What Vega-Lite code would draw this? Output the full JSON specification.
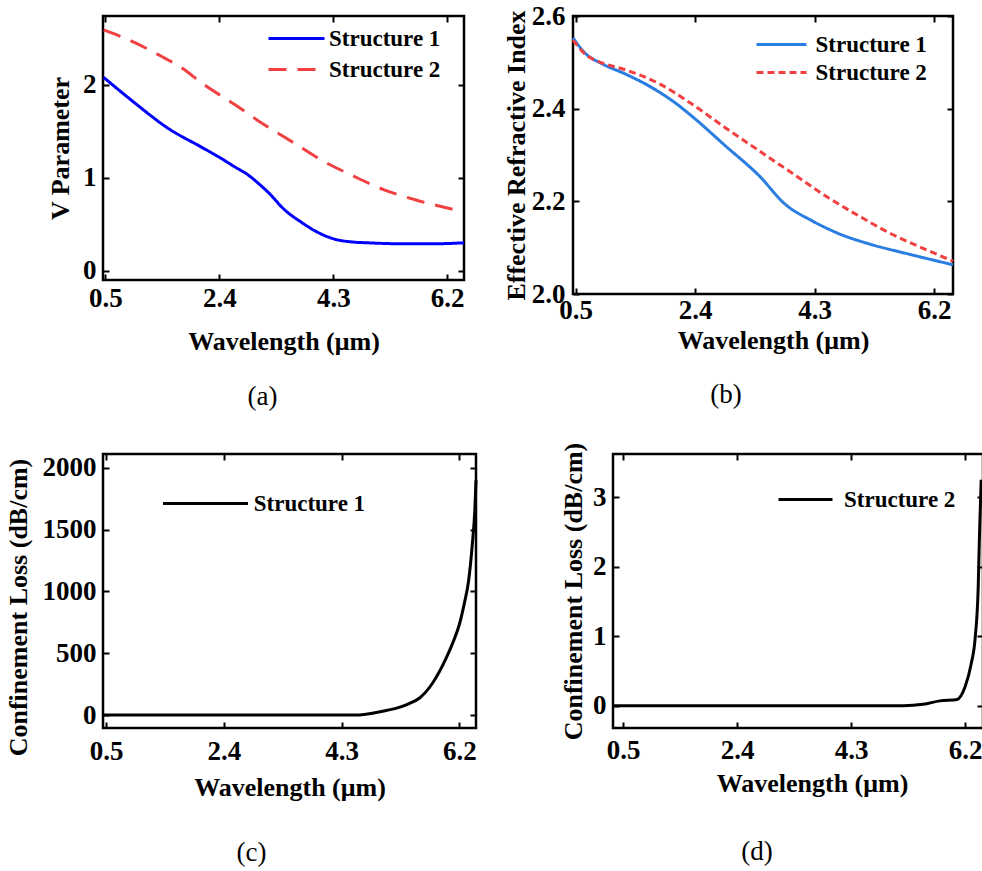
{
  "$schema": "https://vega.github.io/schema/vega-lite/v6.json",
  "padding": {"left": 3, "top": 0, "right": 0, "bottom": 0},
  "background": "white",
  "config": {
    "font": "'Liberation Serif', 'Times New Roman', serif",
    "view": {"stroke": "black", "strokeWidth": 2.5},
    "axis": {
      "labelFont": "'Liberation Serif', 'Times New Roman', serif", "labelFontWeight": "bold", "labelFontSize": 27, "labelColor": "black",
      "titleFont": "'Liberation Serif', 'Times New Roman', serif", "titleFontWeight": "bold", "titleFontSize": 26, "titleColor": "black",
      "domain": false, "grid": false, "tickColor": "black", "tickWidth": 2, "tickSize": -6,
      "labelFlush": false, "labelOverlap": false
    },
    "legend": {
      "labelFont": "'Liberation Serif', 'Times New Roman', serif", "labelFontWeight": "bold", "labelFontSize": 23, "labelColor": "black",
      "symbolStrokeWidth": 3, "symbolType": "M-4,0H4", "padding": 0, "labelLimit": 400
    },
    "title": {"font": "'Liberation Serif', 'Times New Roman', serif", "fontWeight": "normal", "fontSize": 27, "color": "black", "anchor": "middle"}
  },
  "datasets": {
    "a": [
      {"wl": 0.47, "val": 2.08, "series": "Structure 1"},
      {"wl": 0.98, "val": 1.81, "series": "Structure 1"},
      {"wl": 1.55, "val": 1.53, "series": "Structure 1"},
      {"wl": 2.1, "val": 1.33, "series": "Structure 1"},
      {"wl": 2.4, "val": 1.22, "series": "Structure 1"},
      {"wl": 2.65, "val": 1.12, "series": "Structure 1"},
      {"wl": 2.88, "val": 1.03, "series": "Structure 1"},
      {"wl": 3.05, "val": 0.94, "series": "Structure 1"},
      {"wl": 3.22, "val": 0.84, "series": "Structure 1"},
      {"wl": 3.48, "val": 0.66, "series": "Structure 1"},
      {"wl": 3.77, "val": 0.52, "series": "Structure 1"},
      {"wl": 4.05, "val": 0.41, "series": "Structure 1"},
      {"wl": 4.32, "val": 0.34, "series": "Structure 1"},
      {"wl": 4.6, "val": 0.31, "series": "Structure 1"},
      {"wl": 4.88, "val": 0.3, "series": "Structure 1"},
      {"wl": 5.43, "val": 0.29, "series": "Structure 1"},
      {"wl": 6.0, "val": 0.29, "series": "Structure 1"},
      {"wl": 6.48, "val": 0.3, "series": "Structure 1"},
      {"wl": 0.47, "val": 2.59, "series": "Structure 2"},
      {"wl": 0.72, "val": 2.53, "series": "Structure 2"},
      {"wl": 1.22, "val": 2.38, "series": "Structure 2"},
      {"wl": 1.48, "val": 2.29, "series": "Structure 2"},
      {"wl": 1.73, "val": 2.2, "series": "Structure 2"},
      {"wl": 2.15, "val": 2.0, "series": "Structure 2"},
      {"wl": 2.65, "val": 1.79, "series": "Structure 2"},
      {"wl": 3.15, "val": 1.57, "series": "Structure 2"},
      {"wl": 3.63, "val": 1.38, "series": "Structure 2"},
      {"wl": 4.13, "val": 1.18, "series": "Structure 2"},
      {"wl": 4.63, "val": 1.02, "series": "Structure 2"},
      {"wl": 5.15, "val": 0.87, "series": "Structure 2"},
      {"wl": 5.68, "val": 0.76, "series": "Structure 2"},
      {"wl": 6.3, "val": 0.66, "series": "Structure 2"}
    ],
    "b": [
      {"wl": 0.46, "val": 2.553, "series": "Structure 1"},
      {"wl": 0.65, "val": 2.52, "series": "Structure 1"},
      {"wl": 0.92, "val": 2.497, "series": "Structure 1"},
      {"wl": 1.29, "val": 2.475, "series": "Structure 1"},
      {"wl": 1.72, "val": 2.445, "series": "Structure 1"},
      {"wl": 2.08, "val": 2.413, "series": "Structure 1"},
      {"wl": 2.4, "val": 2.378, "series": "Structure 1"},
      {"wl": 2.88, "val": 2.32, "series": "Structure 1"},
      {"wl": 3.42, "val": 2.255, "series": "Structure 1"},
      {"wl": 3.83, "val": 2.194, "series": "Structure 1"},
      {"wl": 4.26, "val": 2.158, "series": "Structure 1"},
      {"wl": 4.69, "val": 2.13, "series": "Structure 1"},
      {"wl": 5.17, "val": 2.108, "series": "Structure 1"},
      {"wl": 5.8, "val": 2.086, "series": "Structure 1"},
      {"wl": 6.5, "val": 2.063, "series": "Structure 1"},
      {"wl": 0.46, "val": 2.548, "series": "Structure 2"},
      {"wl": 0.65, "val": 2.518, "series": "Structure 2"},
      {"wl": 0.92, "val": 2.499, "series": "Structure 2"},
      {"wl": 1.29, "val": 2.484, "series": "Structure 2"},
      {"wl": 1.83, "val": 2.454, "series": "Structure 2"},
      {"wl": 2.35, "val": 2.41, "series": "Structure 2"},
      {"wl": 2.88, "val": 2.359, "series": "Structure 2"},
      {"wl": 3.42, "val": 2.309, "series": "Structure 2"},
      {"wl": 3.94, "val": 2.261, "series": "Structure 2"},
      {"wl": 4.47, "val": 2.212, "series": "Structure 2"},
      {"wl": 5.01, "val": 2.168, "series": "Structure 2"},
      {"wl": 5.53, "val": 2.129, "series": "Structure 2"},
      {"wl": 6.05, "val": 2.097, "series": "Structure 2"},
      {"wl": 6.5, "val": 2.071, "series": "Structure 2"}
    ],
    "c": [
      {"wl": 0.45, "val": 0, "series": "Structure 1"},
      {"wl": 1.5, "val": 0, "series": "Structure 1"},
      {"wl": 2.5, "val": 0, "series": "Structure 1"},
      {"wl": 3.5, "val": 0, "series": "Structure 1"},
      {"wl": 4.3, "val": 0, "series": "Structure 1"},
      {"wl": 4.59, "val": 1, "series": "Structure 1"},
      {"wl": 4.8, "val": 14, "series": "Structure 1"},
      {"wl": 4.96, "val": 30, "series": "Structure 1"},
      {"wl": 5.23, "val": 62, "series": "Structure 1"},
      {"wl": 5.4, "val": 95, "series": "Structure 1"},
      {"wl": 5.56, "val": 138, "series": "Structure 1"},
      {"wl": 5.77, "val": 259, "series": "Structure 1"},
      {"wl": 5.99, "val": 462, "series": "Structure 1"},
      {"wl": 6.1, "val": 590, "series": "Structure 1"},
      {"wl": 6.2, "val": 731, "series": "Structure 1"},
      {"wl": 6.28, "val": 900, "series": "Structure 1"},
      {"wl": 6.35, "val": 1085, "series": "Structure 1"},
      {"wl": 6.41, "val": 1380, "series": "Structure 1"},
      {"wl": 6.45, "val": 1650, "series": "Structure 1"},
      {"wl": 6.47, "val": 1900, "series": "Structure 1"}
    ],
    "d": [
      {"wl": 0.33, "val": 0, "series": "Structure 2"},
      {"wl": 1.5, "val": 0, "series": "Structure 2"},
      {"wl": 2.5, "val": 0, "series": "Structure 2"},
      {"wl": 3.5, "val": 0, "series": "Structure 2"},
      {"wl": 4.5, "val": 0, "series": "Structure 2"},
      {"wl": 5.17, "val": 0, "series": "Structure 2"},
      {"wl": 5.5, "val": 0.02, "series": "Structure 2"},
      {"wl": 5.78, "val": 0.07, "series": "Structure 2"},
      {"wl": 6.07, "val": 0.09, "series": "Structure 2"},
      {"wl": 6.13, "val": 0.14, "series": "Structure 2"},
      {"wl": 6.2, "val": 0.27, "series": "Structure 2"},
      {"wl": 6.3, "val": 0.59, "series": "Structure 2"},
      {"wl": 6.37, "val": 0.98, "series": "Structure 2"},
      {"wl": 6.42, "val": 1.7, "series": "Structure 2"},
      {"wl": 6.44, "val": 2.42, "series": "Structure 2"},
      {"wl": 6.47, "val": 3.25, "series": "Structure 2"}
    ]
  },
  "concat": [
    {
      "hconcat": [
        {
          "width": 361, "height": 264,
          "data": {"name": "a"},
          "title": {"text": "(a)", "orient": "bottom", "offset": 30, "dx": -21},
          "layer": [
            {
              "mark": {"type": "line", "strokeWidth": 3, "interpolate": "monotone"},
              "encoding": {
                "x": {"field": "wl", "type": "quantitative", "scale": {"domain": [0.46, 6.48], "nice": false, "zero": false},
                      "axis": {"title": "Wavelength (μm)", "values": [0.5, 2.4, 4.3, 6.2], "format": ".1f", "labelPadding": 11, "titlePadding": 17}},
                "y": {"field": "val", "type": "quantitative", "scale": {"domain": [-0.1, 2.74], "nice": false, "zero": false},
                      "axis": {"title": "V Parameter", "values": [0, 1, 2], "format": "d", "labelPadding": 13, "titlePadding": 9}},
                "color": {"field": "series", "type": "nominal",
                          "scale": {"domain": ["Structure 1", "Structure 2"], "range": ["#0000ff", "#f04040"]},
                          "legend": {"orient": "none", "legendX": 182, "legendY": 11, "symbolSize": 196, "rowPadding": 7, "labelOffset": 21, "title": null}},
                "strokeDash": {"field": "series", "type": "nominal",
                          "scale": {"domain": ["Structure 1", "Structure 2"], "range": [[1, 0], [18, 11]]},
                          "legend": {"orient": "none", "legendX": 182, "legendY": 11, "symbolSize": 196, "rowPadding": 7, "labelOffset": 21, "title": null}}
              }
            },
            {
              "mark": {"type": "line", "opacity": 0},
              "encoding": {
                "x": {"field": "wl", "type": "quantitative", "axis": {"orient": "top", "labels": false, "title": null, "values": [0.5, 2.4, 4.3, 6.2]}},
                "y": {"field": "val", "type": "quantitative", "axis": {"orient": "right", "labels": false, "title": null, "values": [0, 1, 2]}},
                "detail": {"field": "series"}
              }
            }
          ],
          "resolve": {"axis": {"x": "independent", "y": "independent"}}
        },
        {
          "width": 380, "height": 278,
          "data": {"name": "b"},
          "title": {"text": "(b)", "orient": "bottom", "offset": 29, "dx": -37},
          "layer": [
            {
              "mark": {"type": "line", "strokeWidth": 3, "interpolate": "monotone"},
              "encoding": {
                "x": {"field": "wl", "type": "quantitative", "scale": {"domain": [0.46, 6.5], "nice": false, "zero": false},
                      "axis": {"title": "Wavelength (μm)", "titleX": 200, "values": [0.5, 2.4, 4.3, 6.2], "format": ".1f", "labelPadding": 9, "titlePadding": 4}},
                "y": {"field": "val", "type": "quantitative", "scale": {"domain": [2.0, 2.6], "nice": false, "zero": false},
                      "axis": {"title": "Effective Refractive Index", "values": [2.0, 2.2, 2.4, 2.6], "format": ".1f", "labelPadding": 14, "titlePadding": 2}},
                "color": {"field": "series", "type": "nominal",
                          "scale": {"domain": ["Structure 1", "Structure 2"], "range": ["#2a7de1", "#f04040"]},
                          "legend": {"orient": "none", "legendX": 197, "legendY": 17, "symbolSize": 156.25, "rowPadding": 4, "labelOffset": 22.5, "title": null}},
                "strokeDash": {"field": "series", "type": "nominal",
                          "scale": {"domain": ["Structure 1", "Structure 2"], "range": [[1, 0], [7, 4]]},
                          "legend": {"orient": "none", "legendX": 197, "legendY": 17, "symbolSize": 156.25, "rowPadding": 4, "labelOffset": 22.5, "title": null}}
              }
            },
            {
              "mark": {"type": "line", "opacity": 0},
              "encoding": {
                "x": {"field": "wl", "type": "quantitative", "axis": {"orient": "top", "labels": false, "title": null, "values": [0.5, 2.4, 4.3, 6.2]}},
                "y": {"field": "val", "type": "quantitative", "axis": {"orient": "right", "labels": false, "title": null, "values": [2.0, 2.2, 2.4, 2.6]}},
                "detail": {"field": "series"}
              }
            }
          ],
          "resolve": {"axis": {"x": "independent", "y": "independent"}}
        }
      ],
      "spacing": 109,
      "bounds": "flush",
      "resolve": {"scale": {"color": "independent", "strokeDash": "independent"}, "legend": {"color": "independent", "strokeDash": "independent"}}
    },
    {
      "hconcat": [
        {
          "width": 373, "height": 274,
          "data": {"name": "c"},
          "title": {"text": "(c)", "orient": "bottom", "offset": 40, "dx": -38},
          "layer": [
            {
              "mark": {"type": "line", "strokeWidth": 3, "interpolate": "monotone"},
              "encoding": {
                "x": {"field": "wl", "type": "quantitative", "scale": {"domain": [0.45, 6.47], "nice": false, "zero": false},
                      "axis": {"title": "Wavelength (μm)", "values": [0.5, 2.4, 4.3, 6.2], "format": ".1f", "labelPadding": 16, "titlePadding": 10}},
                "y": {"field": "val", "type": "quantitative", "scale": {"domain": [-105, 2113], "nice": false, "zero": false},
                      "axis": {"title": "Confinement Loss (dB/cm)", "titleY": 153, "values": [0, 500, 1000, 1500, 2000], "format": "d", "labelPadding": 13, "titlePadding": 11}},
                "color": {"field": "series", "type": "nominal",
                          "scale": {"domain": ["Structure 1"], "range": ["black"]},
                          "legend": {"orient": "none", "legendX": 90, "legendY": 37, "symbolSize": 451.56, "labelOffset": 35.75, "title": null}}
              }
            },
            {
              "mark": {"type": "line", "opacity": 0},
              "encoding": {
                "x": {"field": "wl", "type": "quantitative", "axis": {"orient": "top", "labels": false, "title": null, "values": [0.5, 2.4, 4.3, 6.2]}},
                "y": {"field": "val", "type": "quantitative", "axis": {"orient": "right", "labels": false, "title": null, "values": [0, 500, 1000, 1500, 2000]}}
              }
            }
          ],
          "resolve": {"axis": {"x": "independent", "y": "independent"}}
        },
        {
          "width": 370, "height": 274,
          "data": {"name": "d"},
          "title": {"text": "(d)", "orient": "bottom", "offset": 43, "dx": -41},
          "layer": [
            {
              "mark": {"type": "line", "strokeWidth": 3, "interpolate": "monotone"},
              "encoding": {
                "x": {"field": "wl", "type": "quantitative", "scale": {"domain": [0.33, 6.5], "nice": false, "zero": false},
                      "axis": {"title": "Wavelength (μm)", "titleX": 199, "values": [0.5, 2.4, 4.3, 6.2], "format": ".1f", "labelPadding": 15, "titlePadding": 7}},
                "y": {"field": "val", "type": "quantitative", "scale": {"domain": [-0.32, 3.62], "nice": false, "zero": false},
                      "axis": {"title": "Confinement Loss (dB/cm)", "values": [0, 1, 2, 3], "format": "d", "labelPadding": 13, "titlePadding": 6}},
                "color": {"field": "series", "type": "nominal",
                          "scale": {"domain": ["Structure 2"], "range": ["black"]},
                          "legend": {"orient": "none", "legendX": 181, "legendY": 34, "symbolSize": 182.25, "labelOffset": 27, "title": null}}
              }
            },
            {
              "mark": {"type": "line", "opacity": 0},
              "encoding": {
                "x": {"field": "wl", "type": "quantitative", "axis": {"orient": "top", "labels": false, "title": null, "values": [0.5, 2.4, 4.3, 6.2]}},
                "y": {"field": "val", "type": "quantitative", "axis": {"orient": "right", "labels": false, "title": null, "values": [0, 1, 2, 3]}}
              }
            }
          ],
          "resolve": {"axis": {"x": "independent", "y": "independent"}}
        }
      ],
      "spacing": 137,
      "bounds": "flush",
      "resolve": {"scale": {"color": "independent", "strokeDash": "independent"}, "legend": {"color": "independent", "strokeDash": "independent"}}
    }
  ],
  "columns": 1,
  "align": {"row": "none", "column": "all"},
  "spacing": 28,
  "resolve": {"scale": {"color": "independent", "strokeDash": "independent"}, "legend": {"color": "independent", "strokeDash": "independent"}}
}
